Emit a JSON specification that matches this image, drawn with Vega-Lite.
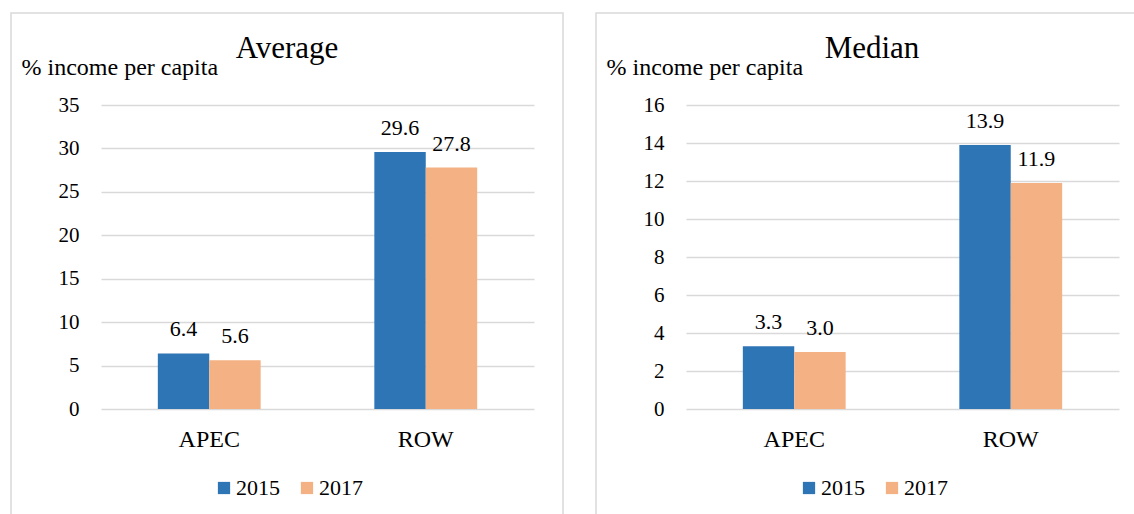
{
  "$schema": "https://vega.github.io/schema/vega-lite/v6.json",
  "background": "white",
  "padding": {"left": 10, "top": 12, "right": 0, "bottom": 0},
  "spacing": 31,
  "datasets": {
    "avg": [
      {"region": "APEC", "year": "2015", "value": 6.4},
      {"region": "APEC", "year": "2017", "value": 5.6},
      {"region": "ROW", "year": "2015", "value": 29.6},
      {"region": "ROW", "year": "2017", "value": 27.8}
    ],
    "med": [
      {"region": "APEC", "year": "2015", "value": 3.3},
      {"region": "APEC", "year": "2017", "value": 3.0},
      {"region": "ROW", "year": "2015", "value": 13.9},
      {"region": "ROW", "year": "2017", "value": 11.9}
    ]
  },
  "hconcat": [
    {
      "width": 552,
      "height": 506,
      "data": {"name": "avg"},
      "title": {"text": "Average", "frame": "group", "anchor": "middle", "offset": -76, "baseline": "alphabetic", "font": "Liberation Serif"},
      "encoding": {
        "x": {"field": "region", "type": "nominal", "sort": ["APEC", "ROW"],
          "scale": {"range": [90, 523], "paddingInner": 0.525, "paddingOuter": 0.2625},
          "axis": {"title": null, "domain": false, "ticks": false, "labelAngle": 0, "offset": -110, "labelPadding": 18, "labelFontSize": 24, "labelFont": "Liberation Serif"}},
        "y": {"field": "value", "type": "quantitative",
          "scale": {"domain": [0, 35], "range": [396, 92], "nice": false},
          "axis": {"values": [0, 5, 10, 15, 20, 25, 30, 35], "domain": false, "ticks": false, "offset": -70, "labelPadding": 2, "labelFontSize": 21, "labelFont": "Liberation Serif",
            "title": "% income per capita", "titleFont": "Liberation Serif", "titleAngle": 0, "titleAlign": "left", "titleBaseline": "alphabetic", "titleX": -60, "titleY": 61, "titleFontSize": 24, "titleFontWeight": "normal"}},
        "xOffset": {"field": "year", "type": "nominal", "scale": {"paddingInner": 0, "paddingOuter": 0}}
      },
      "layer": [
        {"mark": {"type": "bar"},
         "encoding": {"color": {"field": "year", "type": "nominal",
           "scale": {"domain": ["2015", "2017"], "range": ["#2E75B6", "#F4B183"]},
           "legend": {"orient": "none", "legendX": 202, "legendY": 464, "direction": "horizontal", "title": null, "symbolType": "square", "symbolSize": 150, "labelFontSize": 22, "labelFont": "Liberation Serif", "columnPadding": 16, "labelOffset": 1, "symbolStrokeWidth": 0}}}},
        {"mark": {"type": "text", "baseline": "bottom", "dy": -12, "fontSize": 22, "font": "Liberation Serif"},
         "encoding": {"text": {"field": "value", "type": "quantitative", "format": ".1f"}}}
      ]
    },
    {
      "width": 552,
      "height": 506,
      "data": {"name": "med"},
      "title": {"text": "Median", "frame": "group", "anchor": "middle", "offset": -76, "baseline": "alphabetic", "font": "Liberation Serif"},
      "encoding": {
        "x": {"field": "region", "type": "nominal", "sort": ["APEC", "ROW"],
          "scale": {"range": [90, 523], "paddingInner": 0.525, "paddingOuter": 0.2625},
          "axis": {"title": null, "domain": false, "ticks": false, "labelAngle": 0, "offset": -110, "labelPadding": 18, "labelFontSize": 24, "labelFont": "Liberation Serif"}},
        "y": {"field": "value", "type": "quantitative",
          "scale": {"domain": [0, 16], "range": [396, 92], "nice": false},
          "axis": {"values": [0, 2, 4, 6, 8, 10, 12, 14, 16], "domain": false, "ticks": false, "offset": -70, "labelPadding": 2, "labelFontSize": 21, "labelFont": "Liberation Serif",
            "title": "% income per capita", "titleFont": "Liberation Serif", "titleAngle": 0, "titleAlign": "left", "titleBaseline": "alphabetic", "titleX": -60, "titleY": 61, "titleFontSize": 24, "titleFontWeight": "normal"}},
        "xOffset": {"field": "year", "type": "nominal", "scale": {"paddingInner": 0, "paddingOuter": 0}}
      },
      "layer": [
        {"mark": {"type": "bar"},
         "encoding": {"color": {"field": "year", "type": "nominal",
           "scale": {"domain": ["2015", "2017"], "range": ["#2E75B6", "#F4B183"]},
           "legend": {"orient": "none", "legendX": 202, "legendY": 464, "direction": "horizontal", "title": null, "symbolType": "square", "symbolSize": 150, "labelFontSize": 22, "labelFont": "Liberation Serif", "columnPadding": 16, "labelOffset": 1, "symbolStrokeWidth": 0}}}},
        {"mark": {"type": "text", "baseline": "bottom", "dy": -12, "fontSize": 22, "font": "Liberation Serif"},
         "encoding": {"text": {"field": "value", "type": "quantitative", "format": ".1f"}}}
      ]
    }
  ],
  "resolve": {"scale": {"x": "independent", "y": "independent", "xOffset": "independent", "color": "independent"}, "legend": {"color": "independent"}, "axis": {"x": "independent", "y": "independent"}},
  "config": {
    "font": "Liberation Serif",
    "view": {"stroke": "#d9d9d9", "strokeWidth": 1.5},
    "title": {"fontSize": 31, "fontWeight": "normal", "color": "#000000", "font": "Liberation Serif"},
    "axis": {"labelColor": "#000000", "titleColor": "#000000", "gridColor": "#d9d9d9", "gridWidth": 1.3, "labelFont": "Liberation Serif", "titleFont": "Liberation Serif"},
    "legend": {"labelColor": "#000000", "labelFont": "Liberation Serif"},
    "text": {"color": "#000000", "font": "Liberation Serif"},
    "style": {"guide-label": {"font": "Liberation Serif"}, "guide-title": {"font": "Liberation Serif"}, "group-title": {"font": "Liberation Serif"}}
  }
}
